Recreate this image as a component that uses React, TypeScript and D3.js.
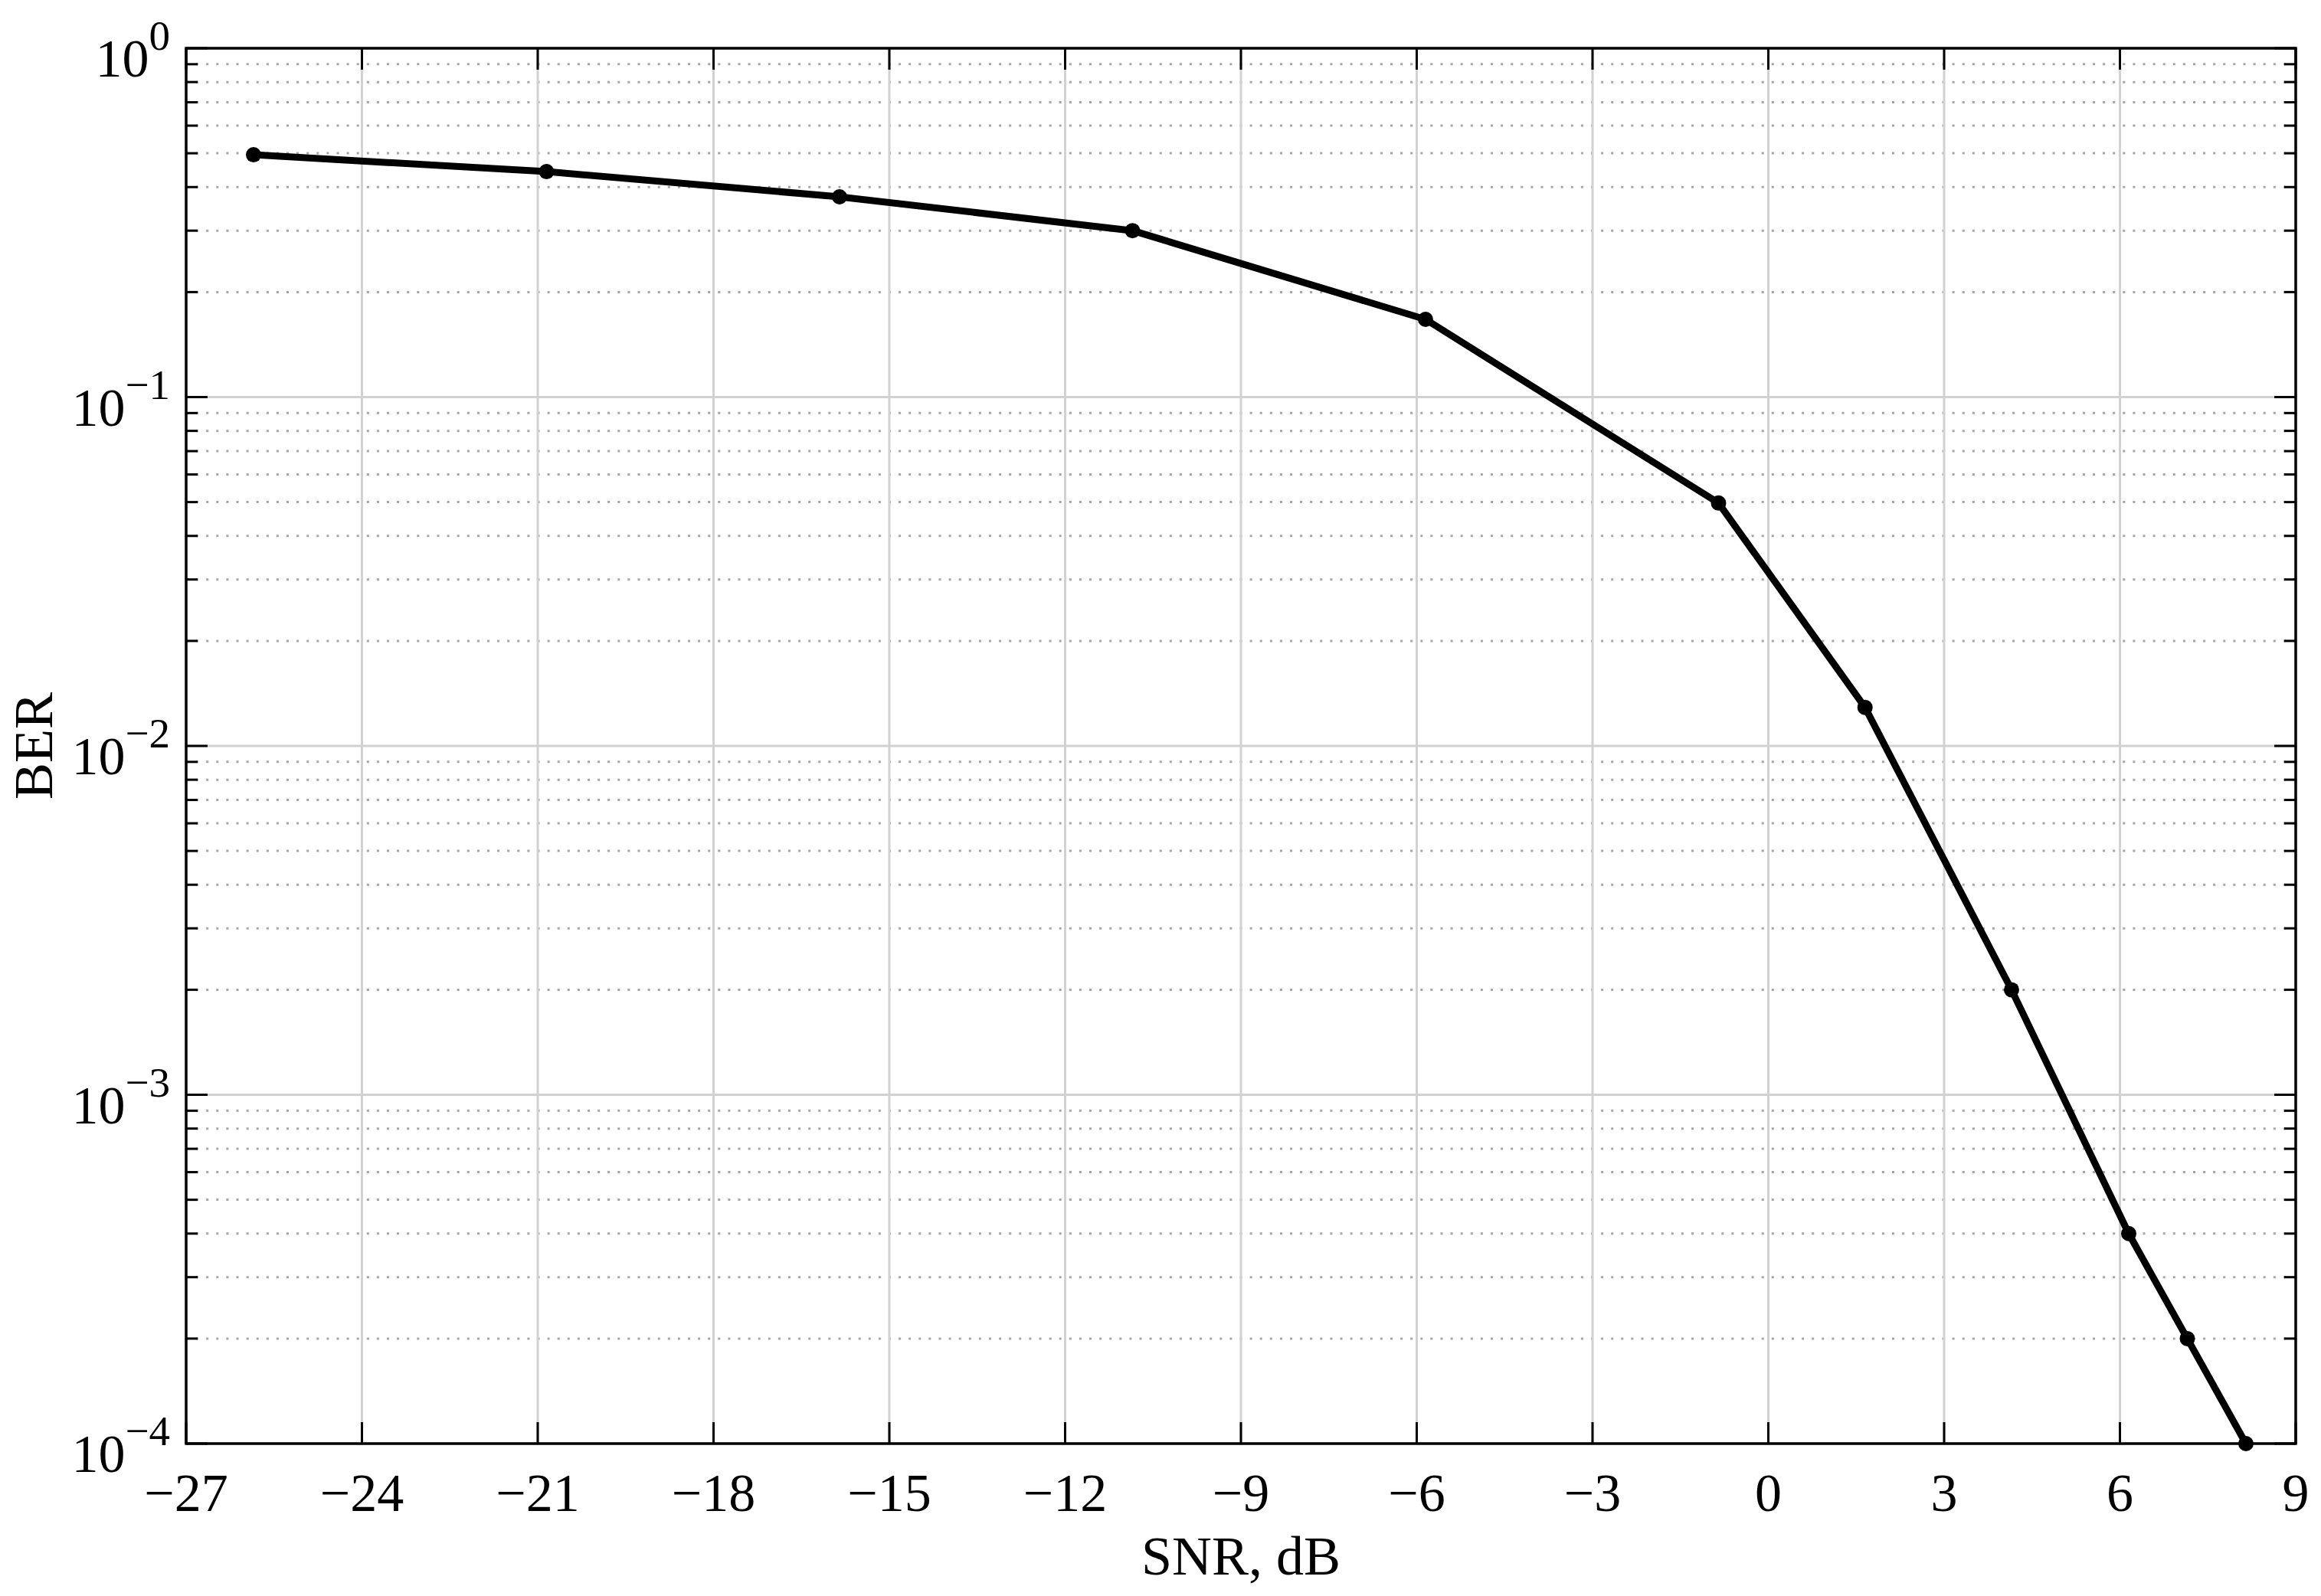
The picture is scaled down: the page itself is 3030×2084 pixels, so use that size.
import React from "react";
import * as d3 from "d3";

const snrDb: number[] = [-25.85, -20.85, -15.85, -10.85, -5.85, -0.85, 1.65, 4.15, 6.15, 7.15, 8.15];
const ber: number[] = [0.495, 0.443, 0.375, 0.3, 0.167, 0.0497, 0.0129, 0.002, 0.0004, 0.0002, 0.0001];
const xTicks: number[] = [-27, -24, -21, -18, -15, -12, -9, -6, -3, 0, 3, 6, 9];
const yExponents: number[] = [0, -1, -2, -3, -4];
const xLabel = "SNR, dB";
const yLabel = "BER";

const W = 3030;
const H = 2084;
const L = 243;
const R = 2997;
const T = 63;
const B = 1885;
const FONT = "Liberation Serif, Times New Roman, Times, serif";

export default function App() {
  const x = d3.scaleLinear().domain([-27, 9]).range([L, R]);
  const y = d3.scaleLog().domain([1e-4, 1]).range([B, T]);

  const minor: number[] = [];
  for (let e = -4; e < 0; e++) {
    for (let k = 2; k <= 9; k++) minor.push(k * Math.pow(10, e));
  }

  const line = d3
    .line<number>()
    .x((_, i) => x(snrDb[i]))
    .y((d) => y(d));

  const fmtX = (v: number) => (v < 0 ? "\u2212" + Math.abs(v) : String(v));
  const ts = { fontFamily: FONT };

  return (
    <svg
      width={W}
      height={H}
      style={{ position: "absolute", left: 0, top: 0, background: "#fff", fontFamily: FONT }}
    >
      <rect x={0} y={0} width={W} height={H} fill="#fff" />
      {minor.map((v) => (
        <line
          key={"mg" + v}
          x1={L}
          x2={R}
          y1={y(v)}
          y2={y(v)}
          stroke="#a6a6a6"
          strokeWidth={3}
          strokeDasharray="3,10.1"
        />
      ))}
      {yExponents.map((e) => (
        <line
          key={"yg" + e}
          x1={L}
          x2={R}
          y1={y(Math.pow(10, e))}
          y2={y(Math.pow(10, e))}
          stroke="#d2d2d2"
          strokeWidth={3}
        />
      ))}
      {xTicks.map((t) => (
        <line key={"xg" + t} x1={x(t)} x2={x(t)} y1={T} y2={B} stroke="#d2d2d2" strokeWidth={3} />
      ))}
      {minor.map((v) => (
        <g key={"mt" + v}>
          <line x1={L} x2={L + 15} y1={y(v)} y2={y(v)} stroke="#000" strokeWidth={3} />
          <line x1={R} x2={R - 15} y1={y(v)} y2={y(v)} stroke="#000" strokeWidth={3} />
        </g>
      ))}
      {yExponents.map((e) => (
        <g key={"yt" + e}>
          <line x1={L} x2={L + 28} y1={y(Math.pow(10, e))} y2={y(Math.pow(10, e))} stroke="#000" strokeWidth={3} />
          <line x1={R} x2={R - 28} y1={y(Math.pow(10, e))} y2={y(Math.pow(10, e))} stroke="#000" strokeWidth={3} />
        </g>
      ))}
      {xTicks.map((t) => (
        <g key={"xt" + t}>
          <line x1={x(t)} x2={x(t)} y1={B} y2={B - 28} stroke="#000" strokeWidth={3} />
          <line x1={x(t)} x2={x(t)} y1={T} y2={T + 28} stroke="#000" strokeWidth={3} />
        </g>
      ))}
      <rect x={L} y={T} width={R - L} height={B - T} fill="none" stroke="#000" strokeWidth={3.5} />
      <path d={line(ber) || ""} fill="none" stroke="#000" strokeWidth={9} strokeLinejoin="round" />
      {ber.map((v, i) => (
        <circle key={"pt" + i} cx={x(snrDb[i])} cy={y(v)} r={10} fill="#000" />
      ))}
      {xTicks.map((t) => (
        <text key={"xl" + t} x={x(t)} y={1973} fontSize={70} textAnchor="middle" fill="#000" style={ts}>
          {fmtX(t)}
        </text>
      ))}
      {yExponents.map((e) => (
        <text key={"yl" + e} x={222} y={y(Math.pow(10, e)) + 37} fontSize={70} textAnchor="end" fill="#000" style={ts}>
          10
          <tspan dy={-35} fontSize={55}>
            {e < 0 ? "\u2212" + Math.abs(e) : String(e)}
          </tspan>
        </text>
      ))}
      <text x={(L + R) / 2} y={2056} fontSize={72} textAnchor="middle" fill="#000" style={ts}>
        {xLabel}
      </text>
      <text
        transform={`translate(68, ${(T + B) / 2}) rotate(-90)`}
        fontSize={72}
        textAnchor="middle"
        fill="#000"
        style={ts}
      >
        {yLabel}
      </text>
    </svg>
  );
}
